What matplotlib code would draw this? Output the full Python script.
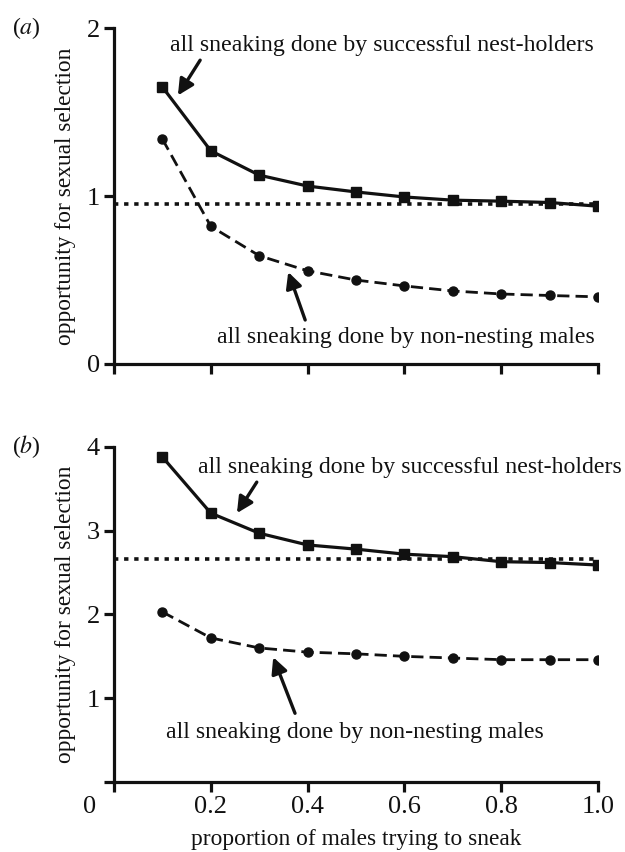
import matplotlib
matplotlib.use("Agg")
import matplotlib.pyplot as plt
import numpy as np

plt.rcParams["font.family"] = ["Liberation Serif", "DejaVu Serif"]
plt.rcParams["mathtext.fontset"] = "stix"

proportion = [0.1, 0.2, 0.3, 0.4, 0.5, 0.6, 0.7, 0.8, 0.9, 1.0]

# panel (a)
a_nest_holders = [1.65, 1.27, 1.125, 1.06, 1.025, 0.995, 0.976, 0.97, 0.962, 0.94]
a_non_nesting = [1.34, 0.82, 0.645, 0.555, 0.50, 0.465, 0.435, 0.417, 0.408, 0.40]
a_baseline = 0.952

# panel (b)
b_nest_holders = [3.88, 3.21, 2.97, 2.83, 2.78, 2.72, 2.69, 2.63, 2.62, 2.59]
b_non_nesting = [2.03, 1.72, 1.60, 1.55, 1.53, 1.50, 1.48, 1.46, 1.46, 1.46]
b_baseline = 2.66

x_ticks = [0, 0.2, 0.4, 0.6, 0.8, 1.0]
x_tick_labels = ["", "0.2", "0.4", "0.6", "0.8", "1.0"]

FS = 17.2      # annotation text
FS_LAB = 16.8  # axis labels
FS_TICK = 19   # tick labels
LW = 2.3
INK = "#111111"

fig = plt.figure(figsize=(6.25, 8.52), dpi=100)
ax_a = fig.add_axes([0.1824, 0.5728, 0.7744, 0.394])
ax_b = fig.add_axes([0.1824, 0.0822, 0.7744, 0.3932])


def style_axes(ax, ymax):
    for side in ["top", "right"]:
        ax.spines[side].set_visible(False)
    for side in ["left", "bottom"]:
        ax.spines[side].set_linewidth(LW)
        ax.spines[side].set_color(INK)
    ax.set_xlim(0, 1.0)
    ax.set_ylim(0, ymax)
    ax.tick_params(direction="out", length=7, width=LW, labelsize=FS_TICK, pad=3, colors=INK)
    ax.set_xticks(x_ticks)


def draw_panel(ax, nest, non_nest, base):
    ax.axhline(base, color=INK, lw=2.6, linestyle=(0, (1.2, 1.6)), dash_capstyle="butt", zorder=1)
    ax.plot(proportion, nest, color=INK, lw=LW, marker="s", markersize=7, zorder=3)
    ax.plot(proportion, non_nest, color=INK, lw=2.0, linestyle=(0, (4.4, 2.2)),
            marker="o", markersize=6.5, zorder=3)


arrow = dict(arrowstyle="-|>", lw=2.4, color=INK, mutation_scale=24, shrinkA=0, shrinkB=0)

# panel (a)
style_axes(ax_a, 2)
draw_panel(ax_a, a_nest_holders, a_non_nesting, a_baseline)
ax_a.set_yticks([0, 1, 2])
ax_a.set_yticklabels(["0", "1", "2"])
ax_a.set_xticklabels([])
ax_a.set_ylabel("opportunity for sexual selection", fontsize=FS_LAB, labelpad=8, color=INK)
ax_a.text(0.116, 1.90, "all sneaking done by successful nest-holders", fontsize=FS,
          ha="left", va="center", color=INK, clip_on=False)
ax_a.annotate("", xy=(0.132, 1.60), xytext=(0.178, 1.81), arrowprops=arrow)
ax_a.text(0.213, 0.155, "all sneaking done by non-nesting males", fontsize=FS,
          ha="left", va="center", color=INK)
ax_a.annotate("", xy=(0.360, 0.548), xytext=(0.395, 0.262), arrowprops=arrow)

# panel (b)
style_axes(ax_b, 4)
draw_panel(ax_b, b_nest_holders, b_non_nesting, b_baseline)
ax_b.set_yticks([0, 1, 2, 3, 4])
ax_b.set_yticklabels(["", "1", "2", "3", "4"])
ax_b.set_xticklabels(x_tick_labels)
ax_b.set_ylabel("opportunity for sexual selection", fontsize=FS_LAB, labelpad=8, color=INK)
ax_b.set_xlabel("proportion of males trying to sneak", fontsize=FS_LAB, labelpad=8, color=INK)
ax_b.text(0.174, 3.76, "all sneaking done by successful nest-holders", fontsize=FS,
          ha="left", va="center", color=INK, clip_on=False)
ax_b.annotate("", xy=(0.254, 3.21), xytext=(0.295, 3.58), arrowprops=arrow)
ax_b.text(0.107, 0.585, "all sneaking done by non-nesting males", fontsize=FS,
          ha="left", va="center", color=INK)
ax_b.annotate("", xy=(0.329, 1.49), xytext=(0.374, 0.82), arrowprops=arrow)

# shared origin label
fig.text(90 / 625, 1 - 807 / 852, "0", fontsize=FS_TICK, ha="center", va="center", color=INK)

# panel letters
fig.text(12 / 625, 1 - 28 / 852, "($\\it{a}$)", fontsize=FS, ha="left", va="center", color=INK)
fig.text(12 / 625, 1 - 447 / 852, "($\\it{b}$)", fontsize=FS, ha="left", va="center", color=INK)

fig.savefig("out.png", dpi=100)
